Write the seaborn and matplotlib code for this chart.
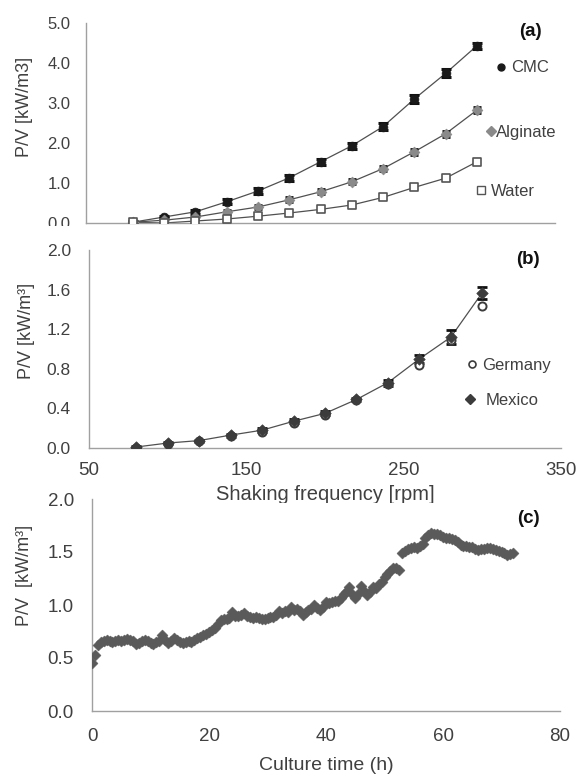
import numpy as np
import pandas as pd
import matplotlib
matplotlib.use("Agg")
import matplotlib.pyplot as plt
from matplotlib.lines import Line2D
from matplotlib.patches import Rectangle
from matplotlib.legend import Legend
import seaborn as sns

# ---------------- data ----------------
# panel (a)
freq_a = [80, 100, 120, 140, 160, 180, 200, 220, 240, 260, 280, 300]
cmc = [0.02, 0.15, 0.28, 0.53, 0.80, 1.13, 1.53, 1.93, 2.41, 3.10, 3.74, 4.43]
cmc_err = [0.02, 0.03, 0.05, 0.06, 0.07, 0.07, 0.08, 0.08, 0.09, 0.09, 0.10, 0.08]
alginate = [0.02, 0.07, 0.15, 0.28, 0.40, 0.58, 0.78, 1.03, 1.36, 1.78, 2.23, 2.82]
alginate_err = [0.02, 0.03, 0.04, 0.05, 0.05, 0.06, 0.06, 0.06, 0.07, 0.07, 0.07, 0.08]
water = [0.02, 0.00, 0.05, 0.10, 0.17, 0.25, 0.34, 0.45, 0.64, 0.89, 1.12, 1.53]
water_err = [0.02, 0.02, 0.03, 0.03, 0.04, 0.04, 0.04, 0.04, 0.05, 0.05, 0.05, 0.06]

# panel (b)
freq_b = [80, 100, 120, 140, 160, 180, 200, 220, 240, 260, 280, 300]
mexico = [0.01, 0.05, 0.075, 0.13, 0.18, 0.27, 0.35, 0.49, 0.66, 0.90, 1.12, 1.57]
mexico_err = [0.01, 0.01, 0.01, 0.015, 0.02, 0.02, 0.02, 0.02, 0.03, 0.04, 0.07, 0.06]
germany = [0.00, 0.04, 0.07, 0.12, 0.16, 0.25, 0.33, 0.48, 0.65, 0.84, 1.09, 1.43]

# panel (c): P/V read every 0.5 h from 0 to 72 h
culture_time_step_h = 0.5
pv_culture = [
    0.45, 0.53, 0.62, 0.65, 0.66, 0.67, 0.66, 0.65, 0.66, 0.67,
    0.66, 0.67, 0.68, 0.67, 0.66, 0.63, 0.64, 0.66, 0.67, 0.66,
    0.64, 0.63, 0.65, 0.66, 0.72, 0.67, 0.64, 0.66, 0.69, 0.67,
    0.65, 0.64, 0.65, 0.66, 0.65, 0.67, 0.69, 0.70, 0.72, 0.73,
    0.75, 0.76, 0.78, 0.82, 0.86, 0.87, 0.87, 0.88, 0.93, 0.90,
    0.90, 0.91, 0.92, 0.90, 0.89, 0.88, 0.89, 0.88, 0.87, 0.87,
    0.88, 0.89, 0.89, 0.91, 0.94, 0.92, 0.94, 0.93, 0.98, 0.95,
    0.96, 0.94, 0.91, 0.93, 0.95, 0.96, 1.00, 0.97, 0.95, 0.98,
    1.03, 1.02, 1.03, 1.04, 1.04, 1.07, 1.10, 1.12, 1.17, 1.10,
    1.07, 1.10, 1.18, 1.13, 1.09, 1.12, 1.17, 1.16, 1.20, 1.22,
    1.26, 1.29, 1.32, 1.35, 1.35, 1.33, 1.49, 1.51, 1.53, 1.54,
    1.55, 1.54, 1.56, 1.58, 1.63, 1.66, 1.68, 1.67, 1.67, 1.66,
    1.64, 1.63, 1.63, 1.62, 1.61, 1.59, 1.57, 1.56, 1.56, 1.55,
    1.55, 1.53, 1.52, 1.53, 1.53, 1.54, 1.54, 1.53, 1.52, 1.51,
    1.50, 1.49, 1.47, 1.48, 1.49,
]
culture_time = [i * culture_time_step_h for i in range(len(pv_culture))]

yticks_a = [0.0, 1.0, 2.0, 3.0, 4.0, 5.0]
yticks_b = [0.0, 0.4, 0.8, 1.2, 1.6, 2.0]
xticks_b = [50, 150, 250, 350]
yticks_c = [0.0, 0.5, 1.0, 1.5, 2.0]
xticks_c = [0, 20, 40, 60, 80]

# ---------------- style ----------------
sns.set_style("white")
plt.rcParams['font.family'] = ['Liberation Sans', 'DejaVu Sans']
TXT = '#404040'
SPINE = '#a0a0a0'

W, H = 581, 776
fig = plt.figure(figsize=(W / 100, H / 100), dpi=100)
fig.patch.set_facecolor('white')


def rect(l, r, top, bottom):
    return [l / W, 1 - bottom / H, (r - l) / W, (bottom - top) / H]


def style_axes(ax, ypad, xpad, fs, xfs=None):
    sns.despine(ax=ax)
    for s in ('left', 'bottom'):
        ax.spines[s].set_color(SPINE)
        ax.spines[s].set_linewidth(1.0)
    ax.tick_params(axis='both', length=0, colors=TXT)
    ax.tick_params(axis='y', pad=ypad, labelsize=fs)
    ax.tick_params(axis='x', pad=xpad, labelsize=xfs or fs)
    ax.set_facecolor('none')


def single_legend(ax, handle, label, x, y, fs, tpad=0.3):
    leg = Legend(ax, [handle], [label], loc='center left',
                 bbox_to_anchor=(x, y), frameon=False, borderpad=0,
                 borderaxespad=0, handlelength=0.6, handletextpad=tpad,
                 fontsize=fs, labelcolor=TXT)
    ax.add_artist(leg)


# ---------------- panel (a) ----------------
axa = fig.add_axes(rect(86, 555, 23, 223))
da = pd.DataFrame({'freq': freq_a, 'CMC': cmc, 'Alginate': alginate, 'Water': water})
for col in ['CMC', 'Alginate', 'Water']:
    sns.lineplot(data=da, x='freq', y=col, ax=axa, color='#505050', linewidth=0.9, zorder=2)
axa.errorbar(freq_a, cmc, yerr=cmc_err, fmt='none', ecolor='#111111', elinewidth=1.6,
             capsize=3.5, capthick=2.2, zorder=3)
axa.errorbar(freq_a, alginate, yerr=alginate_err, fmt='none', ecolor='#111111', elinewidth=1.4,
             capsize=3.2, capthick=2.0, zorder=3)
axa.errorbar(freq_a, water, yerr=water_err, fmt='none', ecolor='#444444', elinewidth=1.2,
             capsize=3.0, capthick=1.6, zorder=3)
sns.scatterplot(data=da, x='freq', y='CMC', ax=axa, marker='o', s=40, color='#1a1a1a',
                edgecolor='#1a1a1a', linewidth=0.5, zorder=4)
sns.scatterplot(data=da, x='freq', y='Alginate', ax=axa, marker='D', s=30, color='#8a8a8a',
                edgecolor='#8a8a8a', linewidth=0.5, zorder=4)
sns.scatterplot(data=da, x='freq', y='Water', ax=axa, marker='s', s=30, color='white',
                edgecolor='#555555', linewidth=1.2, zorder=4)
axa.set_xlim(50, 350)
axa.set_ylim(0, 5.0)
axa.set_yticks(yticks_a)
axa.set_yticklabels([f'{v:.1f}' for v in yticks_a])
axa.set_xticks([])
axa.set_xlabel('')
axa.set_ylabel('P/V [kW/m3]', fontsize=13, color=TXT)
axa.yaxis.set_label_coords(-0.113, 0.58)
style_axes(axa, ypad=11, xpad=6, fs=12)
axa.text(0.947, 0.955, '(a)', transform=axa.transAxes, ha='center', va='center',
         fontsize=13.5, fontweight='bold', color='#111111')
single_legend(axa, Line2D([], [], marker='o', ls='none', color='#1a1a1a', markersize=5),
              'CMC', 0.874, 0.775, 12)
single_legend(axa, Line2D([], [], marker='D', ls='none', color='#8a8a8a', markersize=5.5),
              'Alginate', 0.853, 0.455, 12, tpad=0.0)
single_legend(axa, Line2D([], [], marker='s', ls='none', markerfacecolor='white',
                          markeredgecolor='#555555', markersize=5.5, markeredgewidth=1.0),
              'Water', 0.832, 0.16, 12)

# ---------------- panel (b) ----------------
axb = fig.add_axes(rect(89, 561, 250, 448))
db = pd.DataFrame({'freq': freq_b, 'Mexico': mexico, 'Germany': germany})
sns.lineplot(data=db, x='freq', y='Mexico', ax=axb, color='#505050', linewidth=0.9, zorder=2)
axb.errorbar(freq_b, mexico, yerr=mexico_err, fmt='none', ecolor='#111111', elinewidth=1.5,
             capsize=3.5, capthick=2.0, zorder=3)
sns.scatterplot(data=db, x='freq', y='Germany', ax=axb, marker='o', s=34, color='white',
                edgecolor='#3c3c3c', linewidth=1.4, zorder=4)
sns.scatterplot(data=db, x='freq', y='Mexico', ax=axb, marker='D', s=34, color='#3c3c3c',
                edgecolor='#3c3c3c', linewidth=0.5, zorder=5)
axb.set_xlim(50, 350)
axb.set_ylim(0, 2.0)
axb.set_yticks(yticks_b)
axb.set_yticklabels([f'{v:.1f}' for v in yticks_b])
axb.set_xticks(xticks_b)
axb.set_xticklabels([str(v) for v in xticks_b])
axb.set_xlabel('Shaking frequency [rpm]', fontsize=14.5, color=TXT)
axb.xaxis.set_label_coords(0.5, -0.187)
axb.set_ylabel('P/V [kW/m³]', fontsize=13, color=TXT)
axb.yaxis.set_label_coords(-0.114, 0.59)
style_axes(axb, ypad=13, xpad=10, fs=12.5, xfs=13.5)
axb.text(0.93, 0.95, '(b)', transform=axb.transAxes, ha='center', va='center',
         fontsize=13.5, fontweight='bold', color='#111111')
single_legend(axb, Line2D([], [], marker='o', ls='none', markerfacecolor='white',
                          markeredgecolor='#3c3c3c', markersize=5, markeredgewidth=1.2),
              'Germany', 0.801, 0.419, 12)
single_legend(axb, Line2D([], [], marker='D', ls='none', color='#3c3c3c', markersize=5),
              'Mexico', 0.797, 0.242, 12, tpad=0.6)

# ---------------- panel (c) ----------------
axc = fig.add_axes(rect(92, 560, 499, 711))
dc = pd.DataFrame({'time': culture_time, 'pv': pv_culture})
sns.scatterplot(data=dc, x='time', y='pv', ax=axc, marker='D', s=32, color='#5a5a5a',
                edgecolor='#5a5a5a', linewidth=0.3, zorder=3)
axc.set_xlim(0, 80)
axc.set_ylim(0, 2.0)
axc.set_yticks(yticks_c)
axc.set_yticklabels([f'{v:.1f}' for v in yticks_c])
axc.set_xticks(xticks_c)
axc.set_xticklabels([str(v) for v in xticks_c])
axc.set_xlabel('Culture time (h)', fontsize=14, color=TXT)
axc.xaxis.set_label_coords(0.5, -0.217)
axc.set_ylabel('P/V  [kW/m³]', fontsize=13, color=TXT)
axc.yaxis.set_label_coords(-0.126, 0.64)
style_axes(axc, ypad=13, xpad=12, fs=13.5)
axc.text(0.932, 0.91, '(c)', transform=axc.transAxes, ha='center', va='center',
         fontsize=13.5, fontweight='bold', color='#111111')

# white strips imitating the cropped edges of the original composite
fig.add_artist(Rectangle((0, 1 - 242 / H), 84 / W, 16 / H, transform=fig.transFigure,
                         facecolor='white', edgecolor='none', zorder=10))
fig.add_artist(Rectangle((150 / W, 1 - 513 / H), 350 / W, 10 / H, transform=fig.transFigure,
                         facecolor='white', edgecolor='none', zorder=10))

fig.savefig('out.png', dpi=100, facecolor='white')
